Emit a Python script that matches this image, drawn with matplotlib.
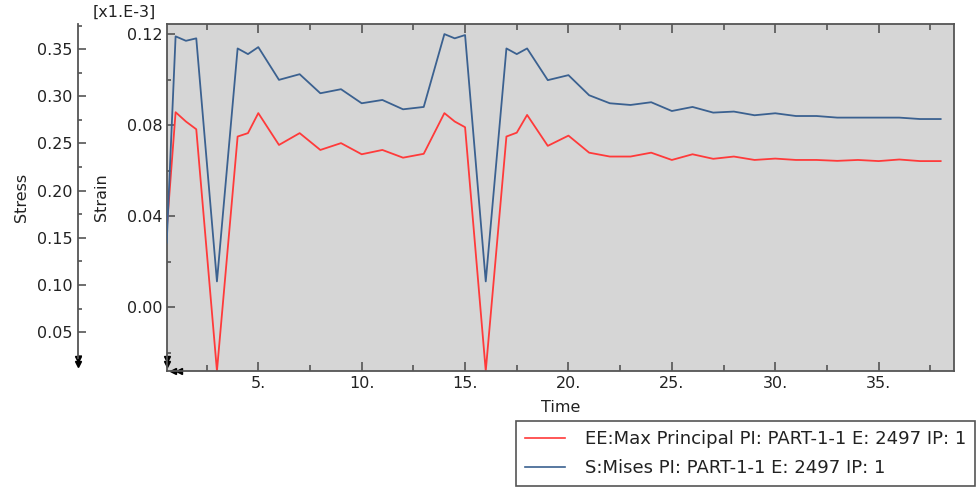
import matplotlib
matplotlib.use("Agg")
import matplotlib.pyplot as plt
from matplotlib.lines import Line2D
import numpy as np

""" DATA """
# EE:Max Principal (strain, x1.E-3)
time_ee = [0.57, 1, 1.5, 2, 3, 4, 4.5, 5, 6, 7, 8, 9, 10, 11, 12, 13, 14, 14.5, 15, 16,
           17, 17.5, 18, 19, 20, 21, 22, 23, 24, 25, 26, 27, 28, 29, 30, 31, 32, 33,
           34, 35, 36, 37, 38]
strain_ee = [0.0341, 0.0858, 0.0817, 0.0783, -0.0280, 0.0751, 0.0766, 0.0854, 0.0714,
             0.0766, 0.0692, 0.0722, 0.0673, 0.0692, 0.0658, 0.0675, 0.0854, 0.0817,
             0.0792, -0.0280, 0.0751, 0.0768, 0.0846, 0.0710, 0.0755, 0.0680, 0.0663,
             0.0663, 0.0680, 0.0648, 0.0673, 0.0653, 0.0663, 0.0648, 0.0654, 0.0648,
             0.0648, 0.0644, 0.0648, 0.0643, 0.0650, 0.0643, 0.0643]

# S:Mises (stress)
time_s = [0.57, 1, 1.5, 2, 3, 4, 4.5, 5, 6, 7, 8, 9, 10, 11, 12, 13, 14, 14.5, 15, 16,
          17, 17.5, 18, 19, 20, 21, 22, 23, 24, 25, 26, 27, 28, 29, 30, 31, 32, 33,
          34, 35, 36, 37, 38]
stress_s = [0.1449, 0.3635, 0.3588, 0.3614, 0.1038, 0.3507, 0.3447, 0.3521, 0.3174,
            0.3234, 0.3032, 0.3075, 0.2926, 0.2961, 0.2862, 0.2887, 0.3659, 0.3614,
            0.3649, 0.1038, 0.3507, 0.3447, 0.3507, 0.3171, 0.3224, 0.3011, 0.2926,
            0.2908, 0.2937, 0.2844, 0.2887, 0.2827, 0.2838, 0.2799, 0.2820, 0.2791,
            0.2791, 0.2774, 0.2774, 0.2774, 0.2774, 0.2759, 0.2759]

x_ticks = [5, 10, 15, 20, 25, 30, 35]
x_labels = ["5.", "10.", "15.", "20.", "25.", "30.", "35."]
strain_ticks = [0.00, 0.04, 0.08, 0.12]
stress_ticks = [0.05, 0.10, 0.15, 0.20, 0.25, 0.30, 0.35]

label_ee = "EE:Max Principal PI: PART-1-1 E: 2497 IP: 1"
label_s = "S:Mises PI: PART-1-1 E: 2497 IP: 1"

""" SETTINGS """
RED = "#ff3a3a"
BLUE = "#3b6190"
FRAME = "#555555"
BG = "#d6d6d6"
FS = 11.5
LEG_FS = 13

plt.rcParams['font.family'] = ['DejaVu Sans']

fig = plt.figure(figsize=(9.78, 4.90), dpi=100)
W, H = 978.0, 490.0
left, right, top, bottom = 166.7, 954.5, 24.0, 370.7
ax = fig.add_axes([left / W, 1 - bottom / H, (right - left) / W, (bottom - top) / H])
ax.set_facecolor(BG)

# strain curve
ax.plot(time_ee, strain_ee, color=RED, lw=1.3)
ax.set_xlim(0.57, 38.67)
ax.set_ylim(-0.0279, 0.1246)
ax.set_xticks(x_ticks)
ax.set_xticklabels(x_labels)
ax.set_xticks(np.arange(2.5, 38.5, 5), minor=True)
ax.set_yticks(strain_ticks)
ax.set_yticklabels(["%.2f" % v for v in strain_ticks])
ax.set_yticks([-0.02, 0.02, 0.06, 0.10], minor=True)
ax.tick_params(which='both', direction='in', top=True, right=True, colors=FRAME,
               labelcolor='#222222', labelsize=FS)
ax.tick_params(axis='x', which='major', length=6.5, width=1.2, pad=4)
ax.tick_params(axis='x', which='minor', length=4, width=1.2)
ax.tick_params(axis='y', which='major', length=5.5, width=1.2, pad=3)
ax.tick_params(axis='y', which='minor', length=3, width=1.2)
for sp in ax.spines.values():
    sp.set_color(FRAME)
    sp.set_linewidth(1.3)

# stress curve on its own axis
ax2 = ax.twinx()
ax2.plot(time_s, stress_s, color=BLUE, lw=1.3)
ax2.set_ylim(0.0092, 0.3766)
ax2.spines['left'].set_position(('axes', (78 - left) / (right - left)))
ax2.spines['left'].set_color(FRAME)
ax2.spines['left'].set_linewidth(1.3)
ax2.spines['left'].set_bounds(0.0227, 0.3766)
for s in ['right', 'top', 'bottom']:
    ax2.spines[s].set_visible(False)
ax2.yaxis.tick_left()
ax2.set_yticks(stress_ticks)
ax2.set_yticklabels(["%.2f" % v for v in stress_ticks])
ax2.set_yticks(np.arange(0.025, 0.376, 0.05), minor=True)
ax2.tick_params(which='both', direction='in', colors=FRAME, labelcolor='#222222',
                labelsize=FS)
ax2.tick_params(which='major', length=5.5, width=1.2, pad=4)
ax2.tick_params(which='minor', length=3, width=1.2)

# arrow heads at the axis ends
ax.plot([0, 0], [0.020, 0.035], transform=ax.transAxes, ls='none', marker='v',
        ms=5, color='black', clip_on=False)
ax.plot([0.008, 0.016], [-0.002, -0.002], transform=ax.transAxes, ls='none',
        marker='<', ms=5, color='black', clip_on=False)
ax2.plot([(78 - left) / (right - left)] * 2, [0.020, 0.035], transform=ax.transAxes,
         ls='none', marker='v', ms=5, color='black', clip_on=False)

# labels
fig.text(21.7 / W, 1 - 197 / H, "Stress", rotation=90, ha='center', va='center',
         fontsize=FS, color='#222222')
fig.text(101.7 / W, 1 - 197 / H, "Strain", rotation=90, ha='center', va='center',
         fontsize=FS, color='#222222')
fig.text(124 / W, 1 - 12 / H, "[x1.E-3]", ha='center', va='center', fontsize=FS,
         color='#222222')
fig.text(560.6 / W, 1 - 407 / H, "Time", ha='center', va='center', fontsize=FS,
         color='#222222')

# legend
handles = [Line2D([], [], color=RED, lw=1.2), Line2D([], [], color=BLUE, lw=1.2)]
leg = fig.legend(handles, [label_ee, label_s], loc='lower right',
                 bbox_to_anchor=(975 / W, 1 - 486 / H), fontsize=LEG_FS, frameon=True,
                 fancybox=False, edgecolor=FRAME, framealpha=1, handlelength=2.2,
                 handletextpad=1.1, borderpad=0.5, labelspacing=0.6,
                 borderaxespad=0)
leg.get_frame().set_linewidth(1.2)
for t in leg.get_texts():
    t.set_color('#222222')

fig.savefig("out.png", dpi=100)
